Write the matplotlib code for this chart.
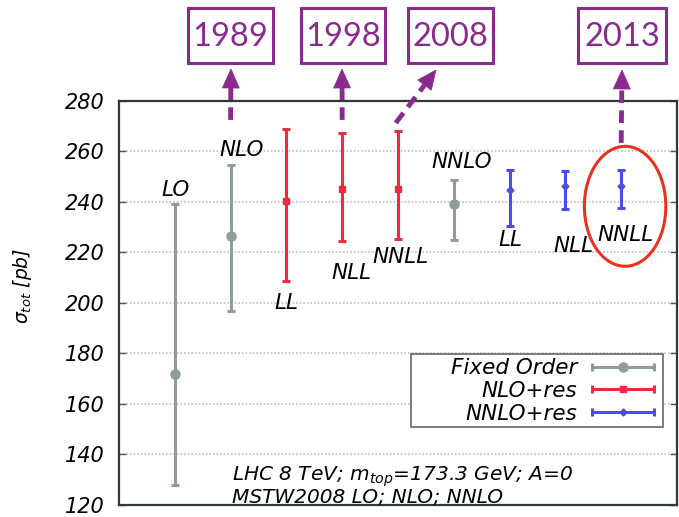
import numpy as np
import matplotlib
matplotlib.use("Agg")
import matplotlib.pyplot as plt
from matplotlib.patches import Rectangle, Ellipse, Polygon
from matplotlib.lines import Line2D
from matplotlib.container import ErrorbarContainer
from matplotlib.legend_handler import HandlerErrorbar

W, H = 679, 517
DPI = 100

# Total top-pair cross section (pb): central value and scale band
orders = ["LO", "NLO", "LL", "NLL", "NNLL", "NNLO", "LL", "NLL", "NNLL"]
groups = ["fo", "fo", "nlo", "nlo", "nlo", "fo", "nnlo", "nnlo", "nnlo"]
central = [172.0, 226.5, 240.5, 245.3, 245.3, 239.4, 244.6, 246.2, 246.2]
upper = [239.2, 254.5, 268.8, 267.2, 268.0, 248.6, 252.6, 252.3, 252.6]
lower = [128.0, 197.0, 208.6, 224.5, 225.5, 224.8, 230.4, 237.2, 237.5]

series_labels = {"fo": "Fixed Order", "nlo": "NLO+res", "nnlo": "NNLO+res"}
yticks = [120, 140, 160, 180, 200, 220, 240, 260, 280]

years = ["1989", "1998", "2008", "2013"]
year_targets = [1, 3, 4, 8]          # which calculation each year refers to

info_lines = [r"LHC 8 TeV; $m_{top}$=173.3 GeV; A=0",
              "MSTW2008 LO; NLO; NNLO"]

# ---------------------------------------------------------------- styling
styles = {
    "fo":   dict(color="#8f9c9b", marker="o", ms=6.5),
    "nlo":  dict(color="#ee2a3e", marker="s", ms=5),
    "nnlo": dict(color="#4c4cee", marker="D", ms=3.5),
}
# label anchors (data coords) for each calculation
label_xy = [(1.02, 244.7), (2.2, 260.6), (3.0, 200.0), (4.16, 212.0),
            (5.05, 218.4), (6.14, 256.0), (7.02, 225.0), (8.14, 222.6),
            (9.07, 227.0)]
purple = "#8b2a8e"
plt.rcParams["font.family"] = ["DejaVu Sans"]
plt.rcParams["mathtext.fontset"] = "dejavusans"

fig = plt.figure(figsize=(W / DPI, H / DPI), dpi=DPI)
ax_l, ax_r, ax_t, ax_b = 119, 677, 101, 505
ax = fig.add_axes([ax_l / W, 1 - ax_b / H, (ax_r - ax_l) / W, (ax_b - ax_t) / H])

xpos = np.arange(1, len(orders) + 1)
for i, (g, c, hi, lo) in enumerate(zip(groups, central, upper, lower)):
    st = styles[g]
    ax.errorbar(xpos[i], c, yerr=[[c - lo], [hi - c]], fmt=st["marker"],
                color=st["color"], ms=st["ms"], elinewidth=2.2, capsize=3.2,
                capthick=2.2, zorder=3)

for (x, y), name in zip(label_xy, orders):
    ax.text(x, y, name, fontsize=15.5, style="italic", ha="center",
            va="center", color="black", zorder=4)

ax.set_xlim(0, 10)
ax.set_ylim(120, 280)
ax.set_yticks(yticks)
ax.set_yticklabels([str(v) for v in yticks], fontsize=15, style="italic")
ax.set_xticks([])
ax.tick_params(axis="y", direction="in", length=5, width=1, pad=10,
               right=True, color="#555555")
ax.grid(axis="y", color="#c8c8c8", linestyle=(0, (1, 1)), linewidth=1.3)
for sp in ax.spines.values():
    sp.set_color("#303838")
    sp.set_linewidth(1.6)

# y-axis title
fig.text(23 / W, 1 - 286 / H, r"$\sigma_{tot}$ [pb]", rotation=90,
         fontsize=13.5, style="italic", ha="center", va="center")

# legend: text on the left, bar-style keys on the right, in a wide box
handles = []
for g in ["fo", "nlo", "nnlo"]:
    st = styles[g]
    h = ax.errorbar([np.nan], [np.nan], xerr=[1], fmt=st["marker"],
                    color=st["color"], ms=st["ms"], elinewidth=2.2,
                    capsize=3.2, capthick=2.2)
    handles.append(h)
leg = ax.legend(handles, [series_labels[g] for g in ["fo", "nlo", "nnlo"]],
                loc="upper right", bbox_to_anchor=((663 - ax_l) / (ax_r - ax_l),
                                                   (ax_b - 353) / (ax_b - ax_t)),
                markerfirst=False, frameon=False, fontsize=15.5,
                handlelength=3.2, labelspacing=0.12, borderpad=0.25,
                handletextpad=0.55, borderaxespad=0,
                handler_map={ErrorbarContainer: HandlerErrorbar(xerr_size=1.45)})
for t in leg.get_texts():
    t.set_style("italic")
lx0, lx1, ly0, ly1 = 411, 663, 354, 427
ax.add_patch(Rectangle(((lx0 - ax_l) / (ax_r - ax_l), (ax_b - ly1) / (ax_b - ax_t)),
                       (lx1 - lx0) / (ax_r - ax_l), (ly1 - ly0) / (ax_b - ax_t),
                       transform=ax.transAxes, facecolor="white",
                       edgecolor="#606868", linewidth=1.2, zorder=4))
leg.set_zorder(5)

# run conditions
ax.text(2.02, 129.5, info_lines[0], fontsize=14.5, style="italic",
        ha="left", va="baseline")
ax.text(2.02, 120.9, info_lines[1], fontsize=14.5, style="italic",
        ha="left", va="baseline")

# highlight the most recent result
ax.add_patch(Ellipse((9.07, 238.3), 1.46, 47.5, fill=False,
                     edgecolor="#e8321e", linewidth=2.2, zorder=5,
                     clip_on=False))

# ---------------------------------------------------------------- year boxes
def to_fig(px, py_top):
    return (px / W, 1 - py_top / H)

def data_to_pix(x, y):
    dx, dy = ax.transData.transform((x, y))
    return dx, H - dy

box_spans = [(188, 273), (301, 385), (408, 493), (578, 666)]
box_top, box_bot = 8, 63
for yr, (x0, x1) in zip(years, box_spans):
    fig.patches.append(Rectangle(to_fig(x0, box_bot), (x1 - x0) / W,
                                 (box_bot - box_top) / H, fill=False,
                                 edgecolor=purple, linewidth=2.2,
                                 transform=fig.transFigure))
    fig.text(*to_fig((x0 + x1) / 2, (box_top + box_bot) / 2 + 1), yr,
             fontsize=23.5, color=purple, family="Lato", ha="center",
             va="center")

# arrows: dashed shaft from the point up to a solid head under each box
tail_y = [272.5, 272.5, 271.3, 263.4]
tail_dx = [0.0, 0.0, -0.04, 0.0]
tips = [(231, 69), (342, 69), (436, 70), (622, 70)]
head_len, head_w = 19, 17
for k, idx in enumerate(year_targets):
    tx, ty = data_to_pix(xpos[idx] + tail_dx[k], tail_y[k])
    hx, hy = tips[k]
    v = np.array([hx - tx, hy - ty], dtype=float)
    v /= np.hypot(*v)
    n = np.array([-v[1], v[0]])
    base = np.array([hx, hy]) - v * head_len
    fig.lines.append(Line2D([tx / W, base[0] / W], [1 - ty / H, 1 - base[1] / H],
                            transform=fig.transFigure, color=purple,
                            linewidth=3.5, linestyle=(0, (2.6, 1.5)),
                            solid_capstyle="butt"))
    p1 = base + n * head_w / 2
    p2 = base - n * head_w / 2
    tri = [to_fig(hx, hy), to_fig(*p1), to_fig(*p2)]
    fig.patches.append(Polygon(tri, closed=True, facecolor=purple,
                               edgecolor=purple, linewidth=0.5,
                               transform=fig.transFigure))

fig.savefig("out.png", dpi=DPI)
